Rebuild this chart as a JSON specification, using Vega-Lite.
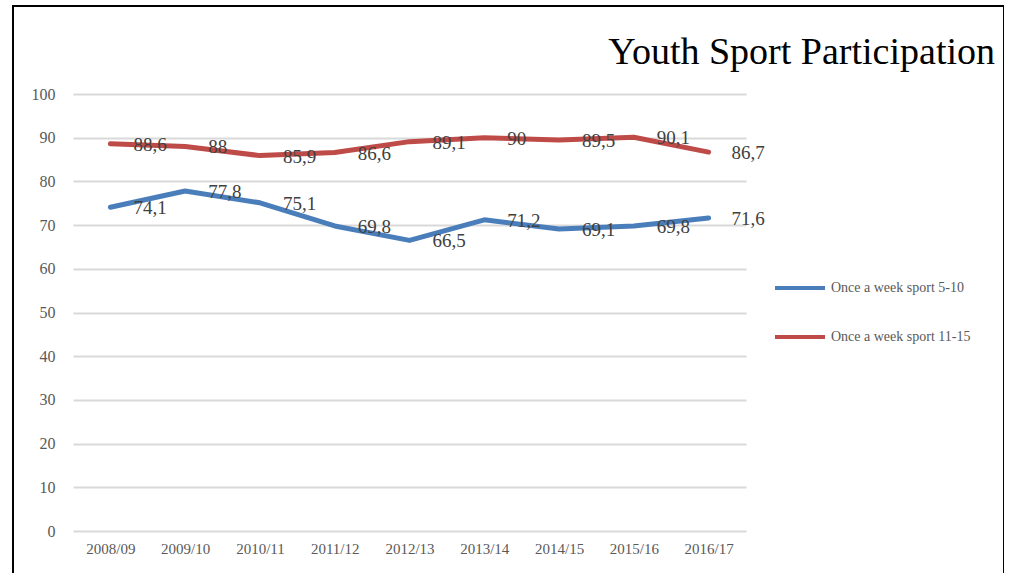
{
  "$schema": "https://vega.github.io/schema/vega-lite/v6.json",
  "width": 991,
  "height": 574,
  "autosize": {"type": "none"},
  "padding": {"left": 13, "top": 6, "right": 0, "bottom": 0},
  "background": "#ffffff",
  "data": {
    "values": [
      {"season": "2008/09", "series": "Once a week sport 5-10", "value": 74.1},
      {"season": "2009/10", "series": "Once a week sport 5-10", "value": 77.8},
      {"season": "2010/11", "series": "Once a week sport 5-10", "value": 75.1},
      {"season": "2011/12", "series": "Once a week sport 5-10", "value": 69.8},
      {"season": "2012/13", "series": "Once a week sport 5-10", "value": 66.5},
      {"season": "2013/14", "series": "Once a week sport 5-10", "value": 71.2},
      {"season": "2014/15", "series": "Once a week sport 5-10", "value": 69.1},
      {"season": "2015/16", "series": "Once a week sport 5-10", "value": 69.8},
      {"season": "2016/17", "series": "Once a week sport 5-10", "value": 71.6},
      {"season": "2008/09", "series": "Once a week sport 11-15", "value": 88.6},
      {"season": "2009/10", "series": "Once a week sport 11-15", "value": 88},
      {"season": "2010/11", "series": "Once a week sport 11-15", "value": 85.9},
      {"season": "2011/12", "series": "Once a week sport 11-15", "value": 86.6},
      {"season": "2012/13", "series": "Once a week sport 11-15", "value": 89.1},
      {"season": "2013/14", "series": "Once a week sport 11-15", "value": 90},
      {"season": "2014/15", "series": "Once a week sport 11-15", "value": 89.5},
      {"season": "2015/16", "series": "Once a week sport 11-15", "value": 90.1},
      {"season": "2016/17", "series": "Once a week sport 11-15", "value": 86.7}
    ]
  },
  "title": {
    "text": "Youth Sport Participation",
    "anchor": "end",
    "frame": "group",
    "orient": "top",
    "offset": -96,
    "baseline": "alphabetic",
    "dx": -9,
    "font": "Liberation Serif",
    "fontSize": 38,
    "fontWeight": "normal",
    "color": "#000000"
  },
  "encoding": {
    "x": {
      "field": "season",
      "type": "ordinal",
      "sort": null,
      "scale": {"type": "point", "padding": 0.5, "range": [60, 733]},
      "axis": {
        "orient": "bottom",
        "offset": -49,
        "title": null,
        "domain": false,
        "ticks": false,
        "tickSize": 0,
        "grid": false,
        "labelPadding": 10,
        "labelAngle": 0,
        "labelFont": "Liberation Serif",
        "labelFontSize": 15,
        "labelColor": "#595959"
      }
    },
    "y": {
      "field": "value",
      "type": "quantitative",
      "scale": {"domain": [0, 100], "range": [525, 88], "nice": false},
      "axis": {
        "orient": "left",
        "offset": -60,
        "title": null,
        "domain": false,
        "ticks": false,
        "tickSize": 0,
        "labelPadding": 18,
        "values": [0, 10, 20, 30, 40, 50, 60, 70, 80, 90, 100],
        "grid": true,
        "gridColor": "#D9D9D9",
        "gridWidth": 2,
        "labelFont": "Liberation Serif",
        "labelFontSize": 16,
        "labelColor": "#595959"
      }
    },
    "color": {
      "field": "series",
      "type": "nominal",
      "scale": {
        "domain": ["Once a week sport 5-10", "Once a week sport 11-15"],
        "range": ["#4A7EBB", "#BE4B48"]
      },
      "legend": {
        "orient": "none",
        "legendX": 760,
        "legendY": 255,
        "title": null,
        "padding": 0,
        "symbolType": "stroke",
        "symbolSize": 2500,
        "symbolStrokeWidth": 4,
        "labelFont": "Liberation Serif",
        "labelFontSize": 14,
        "labelColor": "#595959",
        "labelOffset": 4,
        "rowPadding": 14
      }
    }
  },
  "layer": [
    {"mark": {"type": "line", "strokeWidth": 5, "strokeCap": "round", "strokeJoin": "round"}},
    {
      "mark": {"type": "text", "align": "left", "baseline": "middle", "dx": 23, "dy": 1, "font": "Liberation Serif", "fontSize": 19},
      "encoding": {
        "text": {"field": "value", "type": "quantitative", "format": ".1~f"},
        "color": {"value": "#404040"}
      }
    }
  ],
  "config": {
    "locale": {"number": {"decimal": ",", "thousands": ".", "grouping": [3], "currency": ["", "€"]}},
    "view": {"stroke": "#000000", "strokeWidth": 2}
  }
}
